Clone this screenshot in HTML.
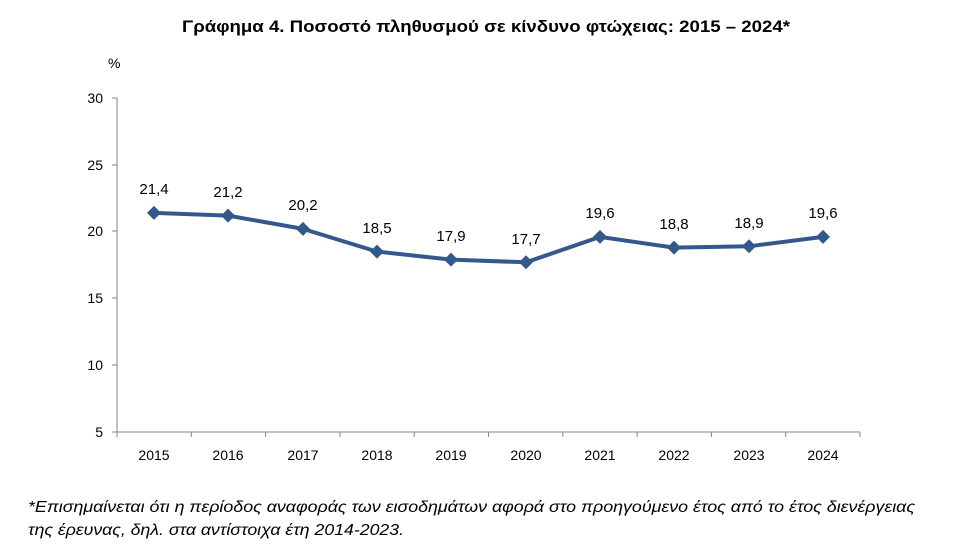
<!DOCTYPE html>
<html><head><meta charset="utf-8"><style>
body{margin:0;background:#fff;width:978px;height:551px;overflow:hidden}
svg text{font-family:"Liberation Sans","DejaVu Sans",sans-serif;fill:#000}
</style></head><body>
<svg width="978" height="551" viewBox="0 0 978 551">
<text x="182" y="32" font-size="17" font-weight="bold" textLength="608" lengthAdjust="spacingAndGlyphs">Γράφημα 4. Ποσοστό πληθυσμού σε κίνδυνο φτώχειας: 2015 – 2024*</text>
<text x="108" y="68" font-size="14">%</text>
<g stroke="#868686" stroke-width="1" fill="none">
<line x1="117" y1="98" x2="117" y2="432"/>
<line x1="117" y1="432" x2="860" y2="432"/>
<line x1="112" y1="98" x2="117" y2="98"/>
<line x1="112" y1="165" x2="117" y2="165"/>
<line x1="112" y1="231" x2="117" y2="231"/>
<line x1="112" y1="298" x2="117" y2="298"/>
<line x1="112" y1="365" x2="117" y2="365"/>
<line x1="112" y1="432" x2="117" y2="432"/>
<line x1="117" y1="432" x2="117" y2="437"/><line x1="191.3" y1="432" x2="191.3" y2="437"/><line x1="265.6" y1="432" x2="265.6" y2="437"/><line x1="339.9" y1="432" x2="339.9" y2="437"/><line x1="414.2" y1="432" x2="414.2" y2="437"/><line x1="488.5" y1="432" x2="488.5" y2="437"/><line x1="562.8" y1="432" x2="562.8" y2="437"/><line x1="637.1" y1="432" x2="637.1" y2="437"/><line x1="711.4" y1="432" x2="711.4" y2="437"/><line x1="785.7" y1="432" x2="785.7" y2="437"/><line x1="860" y1="432" x2="860" y2="437"/>
</g>
<g font-size="14" text-anchor="end">
<text x="103" y="103">30</text><text x="103" y="170">25</text><text x="103" y="236">20</text><text x="103" y="303">15</text><text x="103" y="370">10</text><text x="103" y="437">5</text>
</g>
<g font-size="14" text-anchor="middle">
<text x="154" y="460">2015</text><text x="228" y="460">2016</text><text x="303" y="460">2017</text><text x="377" y="460">2018</text><text x="451" y="460">2019</text><text x="526" y="460">2020</text><text x="600" y="460">2021</text><text x="674" y="460">2022</text><text x="749" y="460">2023</text><text x="823" y="460">2024</text>
</g>
<polyline fill="none" stroke="#33598C" stroke-width="4" stroke-linejoin="round" points="154,212.9 228,215.6 303,228.9 377,251.6 451,259.6 526,262.3 600,236.9 674,247.6 749,246.3 823,236.9"/>
<g fill="#33598C">
<path d="M154,205.9l7,7l-7,7l-7,-7z"/><path d="M228,208.6l7,7l-7,7l-7,-7z"/><path d="M303,221.9l7,7l-7,7l-7,-7z"/><path d="M377,244.6l7,7l-7,7l-7,-7z"/><path d="M451,252.6l7,7l-7,7l-7,-7z"/><path d="M526,255.3l7,7l-7,7l-7,-7z"/><path d="M600,229.9l7,7l-7,7l-7,-7z"/><path d="M674,240.6l7,7l-7,7l-7,-7z"/><path d="M749,239.3l7,7l-7,7l-7,-7z"/><path d="M823,229.9l7,7l-7,7l-7,-7z"/>
</g>
<g font-size="15" text-anchor="middle">
<text x="154" y="194">21,4</text><text x="228" y="197">21,2</text><text x="303" y="210">20,2</text><text x="377" y="233">18,5</text><text x="451" y="241">17,9</text><text x="526" y="244">17,7</text><text x="600" y="218">19,6</text><text x="674" y="229">18,8</text><text x="749" y="228">18,9</text><text x="823" y="218">19,6</text>
</g>
<g font-size="16" font-style="italic">
<text x="28" y="512" textLength="887" lengthAdjust="spacingAndGlyphs">*Επισημαίνεται ότι η περίοδος αναφοράς των εισοδημάτων αφορά στο προηγούμενο έτος από το έτος διενέργειας</text>
<text x="28" y="535" textLength="376" lengthAdjust="spacingAndGlyphs">της έρευνας, δηλ. στα αντίστοιχα έτη 2014-2023.</text>
</g>
</svg>
</body></html>
